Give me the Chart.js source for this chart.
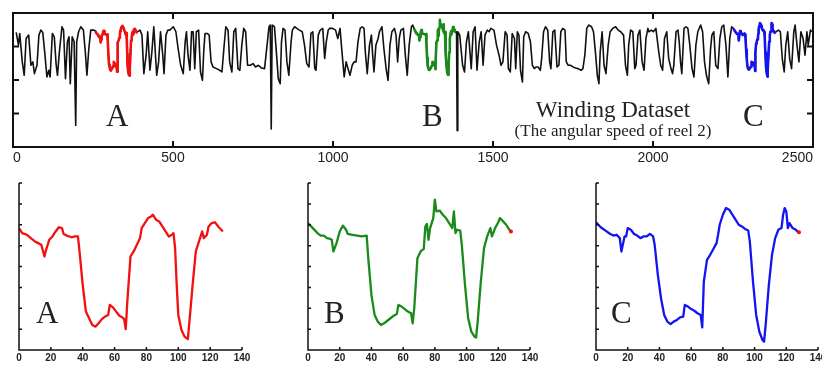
<!DOCTYPE html>
<html>
<head>
<meta charset="utf-8">
<script src="https://cdn.jsdelivr.net/npm/chart.js@4"></script>
<style>
  body { margin: 0; background: #fff; width: 822px; height: 365px; position: relative; overflow: hidden; }
  canvas { position: absolute; }
  .lbl { position: absolute; font-family: "Liberation Serif", "DejaVu Serif", serif; color: #222; line-height: 1; white-space: nowrap; }
</style>
</head>
<body>
<canvas id="top" width="822" height="172" style="left:0;top:0"></canvas>
<canvas id="panelA" width="270" height="190" style="left:0;top:175px"></canvas>
<canvas id="panelB" width="270" height="190" style="left:280px;top:175px"></canvas>
<canvas id="panelC" width="262" height="190" style="left:560px;top:175px"></canvas>

<div class="lbl" style="left:106px;top:100px;font-size:31px">A</div>
<div class="lbl" style="left:422px;top:100px;font-size:31px">B</div>
<div class="lbl" style="left:743px;top:100px;font-size:31px">C</div>
<div class="lbl" style="left:613px;top:98px;font-size:23px;transform:translateX(-50%)">Winding Dataset</div>
<div class="lbl" style="left:613px;top:122px;font-size:17px;transform:translateX(-50%)">(The angular speed of reel 2)</div>
<div class="lbl" style="left:36px;top:297px;font-size:31px">A</div>
<div class="lbl" style="left:324px;top:297px;font-size:31px">B</div>
<div class="lbl" style="left:611px;top:297px;font-size:31px">C</div>

<script>
// full series (angular speed of reel 2), read as [index, value] turning points
const trace1 = [[10,3.42],[17,3.04],[21,3.39],[29,2.54],[35,2.14],[41,3.24],[49,3.34],[56,2.44],[62,2.54],[67,2.19],[75,2.44],[81,3.34],[87,3.49],[93,3.42],[99,2.84],[106,2.09],[112,2.29],[116,2.09],[123,3.39],[129,3.29],[135,2.44],[139,2.14],[145,2.84],[153,3.59],[158,3.49],[164,2.04],[170,3.14],[175,3.29],[179,1.89],[185,3.29],[191,3.14],[196,0.64],[199,3.14],[205,3.44],[212,3.59],[220,3.49],[226,2.84],[231,2.14],[237,2.94],[243,3.49],[251,3.49]];
const trace2 = [[397,3.49],[403,3.34],[409,2.19],[416,2.74],[421,3.44],[428,2.29],[434,2.84],[440,3.59],[449,2.14],[455,2.54],[461,3.44],[468,2.74],[472,2.19],[478,3.34],[484,3.49],
  [490,3.49],[501,3.59],[509,3.44],[516,2.94],[524,2.44],[532,2.19],[538,3.14],[542,3.44],[547,2.74],[553,2.29],[558,3.44],[563,3.44],[568,2.34],[573,3.44],[580,3.49],[586,2.24],[592,1.99],[596,2.84],[600,3.39],[607,3.39],[613,3.34],[619,2.54],[625,2.39],[636,2.34],[646,2.29],[653,2.24],[659,2.94],[665,3.59],[672,3.49],[677,2.54],[684,2.24],[690,3.44],[696,3.54],[703,2.34],[709,2.29],[715,3.04],[721,3.54],[727,3.44],[733,2.44],[742,2.44],[750,2.49],[758,2.39],[767,2.44],[776,2.36],[786,2.34],[794,3.04],[800,3.59],[804,3.64],[807,0.54],[810,3.64],[817,3.59],[823,2.84],[829,2.04],[835,1.89],[839,3.14],[844,3.54],[850,3.49],[856,2.54],[862,2.14],[869,3.14],[873,3.49],[880,3.59],[887,3.54],[895,3.49],[904,3.44],[911,3.04],[918,2.49],[925,2.39],[931,3.39],[937,3.44],[943,2.34],[947,2.29],[954,3.34],[960,3.49],[968,3.54],[974,2.64],[979,3.14],[985,3.49],
  [989,3.54],[999,3.54],[1008,3.49],[1015,3.24],[1022,3.54],[1028,2.84],[1035,2.09],[1041,2.54],[1047,2.34],[1053,2.14],[1060,2.44],[1066,2.54],[1072,2.54],[1078,3.14],[1085,3.54],[1091,3.59],[1097,3.54],[1101,2.84],[1107,2.19],[1114,3.04],[1120,3.34],[1124,2.74],[1128,2.24],[1134,3.04],[1141,3.24],[1145,3.44],[1153,3.59],[1159,2.94],[1166,2.34],[1172,1.99],[1178,3.04],[1184,3.44],[1192,3.54],[1197,3.34],[1202,2.54],[1207,3.24],[1212,3.49],[1220,3.54],[1226,2.74],[1232,2.14],[1238,3.04],[1245,3.59],[1249,3.64]];
const trace3 = [[1386,3.44],[1388,0.49],[1390,3.44],[1396,3.34],[1405,2.44],[1411,2.24],[1417,3.14],[1423,3.44],[1432,2.34],[1438,3.44],[1444,3.59],[1450,2.29],[1457,3.14],[1463,3.44],[1469,2.44],[1475,3.34],[1482,3.49],
  [1488,3.44],[1493,3.54],[1503,3.49],[1511,3.04],[1519,2.74],[1525,2.44],[1531,2.54],[1538,3.44],[1544,3.34],[1548,2.34],[1554,2.24],[1560,3.39],[1567,3.24],[1571,2.34],[1576,3.44],[1581,3.34],[1586,2.29],[1592,1.94],[1596,3.29],[1602,3.44],[1610,3.39],[1617,3.14],[1623,2.44],[1629,2.34],[1635,2.39],[1641,2.39],[1648,2.29],[1652,2.64],[1658,3.44],[1664,3.59],[1671,3.49],[1677,2.54],[1681,2.34],[1687,3.44],[1693,3.49],[1700,2.39],[1706,2.44],[1712,3.44],[1718,3.54],[1725,3.49],[1729,2.54],[1735,2.44],[1742,2.44],[1750,2.39],[1758,2.36],[1766,2.34],[1775,2.29],[1781,2.34],[1787,2.74],[1793,3.54],[1799,3.64],[1808,3.59],[1814,3.44],[1820,2.84],[1826,2.14],[1831,1.89],[1835,2.84],[1841,3.44],[1847,2.44],[1853,2.19],[1860,3.04],[1866,3.44],[1874,3.54],[1883,3.59],[1891,3.49],[1899,3.44],[1908,3.34],[1914,2.44],[1920,2.14],[1924,3.04],[1930,3.49],[1937,3.44],[1943,2.34],[1947,2.44],[1953,3.34],[1959,3.49],[1966,2.54],[1972,2.29],[1978,3.24],[1984,3.54],
  [1987,3.44],[1995,3.49],[2001,3.44],[2009,3.54],[2018,2.84],[2024,2.44],[2030,2.29],[2036,3.24],[2043,3.44],[2049,2.64],[2055,2.39],[2061,2.19],[2065,2.44],[2072,3.44],[2078,3.49],[2082,3.14],[2086,2.54],[2090,2.19],[2097,3.54],[2103,3.59],[2109,3.54],[2115,3.04],[2122,2.34],[2128,2.09],[2134,3.04],[2140,3.44],[2149,3.64],[2155,3.44],[2161,2.54],[2167,2.14],[2174,1.89],[2180,2.94],[2184,3.34],[2190,3.44],[2196,2.44],[2203,2.34],[2209,3.24],[2215,3.59],[2221,3.64],[2228,3.04],[2234,2.09],[2240,3.24],[2246,3.59]];
const trace4 = [[2392,3.49],[2398,3.44],[2404,2.64],[2410,2.24],[2415,3.04],[2421,3.44],[2427,2.64],[2433,2.34],[2440,3.44],[2444,3.64],[2450,3.04],[2456,2.54],[2462,3.44],[2469,3.24],[2475,2.74],[2481,3.44],[2485,3.04],[2492,3.49],[2496,3.44]];

// the three highlighted subsequences, [offset inside segment, value]
const segA = [[0,3.46],[2,3.40],[5,3.38],[8,3.33],[10,3.30],[12,3.28],[14,3.26],[16,3.12],[17,3.20],[19,3.32],[21,3.36],[23,3.42],[25,3.47],[27,3.46],[28,3.39],[30,3.37],[33,3.35],[35,3.36],[37,3.36],[38,3.18],[40,2.78],[42,2.46],[44,2.38],[46,2.30],[48,2.28],[50,2.32],[52,2.37],[54,2.40],[56,2.42],[57,2.54],[59,2.51],[61,2.46],[63,2.41],[65,2.39],[66,2.37],[67,2.25],[68,2.58],[70,3.12],[72,3.18],[74,3.26],[76,3.34],[77,3.46],[79,3.52],[81,3.58],[83,3.60],[84,3.62],[86,3.56],[88,3.54],[90,3.48],[92,3.42],[94,3.36],[96,3.38],[97,3.40],[98,3.22],[99,2.78],[100,2.42],[102,2.24],[104,2.16],[106,2.13],[107,2.34],[109,2.78],[111,3.18],[113,3.30],[115,3.42],[116,3.34],[118,3.38],[119,3.48],[121,3.52],[123,3.53],[125,3.48],[127,3.44],[128,3.42]];
const segB = [[0,3.52],[3,3.46],[6,3.40],[8,3.37],[10,3.37],[12,3.34],[14,3.33],[15,3.32],[16,3.18],[18,3.28],[20,3.42],[22,3.49],[24,3.44],[25,3.39],[28,3.38],[31,3.37],[34,3.36],[37,3.37],[38,3.10],[40,2.66],[42,2.42],[44,2.34],[46,2.30],[48,2.32],[50,2.35],[52,2.38],[54,2.41],[56,2.43],[57,2.54],[59,2.52],[61,2.49],[63,2.46],[65,2.44],[66,2.32],[67,2.50],[69,3.10],[71,3.18],[73,3.21],[74,3.48],[75,3.51],[76,3.32],[77,3.46],[79,3.58],[80,3.80],[81,3.66],[83,3.67],[85,3.62],[87,3.58],[89,3.52],[91,3.46],[92,3.66],[93,3.40],[94,3.44],[96,3.43],[97,3.26],[99,2.78],[101,2.38],[103,2.22],[105,2.16],[106,2.15],[107,2.34],[109,2.82],[111,3.22],[113,3.36],[115,3.46],[116,3.36],[118,3.46],[120,3.53],[121,3.58],[123,3.54],[125,3.50],[127,3.44],[128,3.42]];
const segC = [[0,3.53],[3,3.47],[6,3.43],[9,3.39],[11,3.37],[13,3.38],[15,3.34],[16,3.18],[18,3.36],[19,3.36],[20,3.46],[22,3.44],[24,3.39],[26,3.37],[28,3.34],[30,3.36],[32,3.36],[34,3.39],[36,3.36],[37,3.26],[39,2.90],[41,2.62],[43,2.42],[45,2.34],[47,2.31],[49,2.34],[51,2.36],[53,2.39],[55,2.40],[56,2.54],[58,2.52],[60,2.49],[62,2.47],[64,2.44],[66,2.42],[67,2.27],[68,2.82],[70,3.08],[72,3.14],[74,3.21],[76,3.28],[77,3.38],[78,3.50],[80,3.62],[82,3.70],[84,3.68],[86,3.62],[88,3.56],[90,3.50],[92,3.48],[94,3.45],[96,3.43],[97,3.30],[99,2.82],[101,2.42],[103,2.22],[105,2.12],[106,2.10],[107,2.30],[109,2.78],[111,3.14],[113,3.34],[115,3.44],[117,3.46],[118,3.62],[119,3.70],[120,3.66],[121,3.46],[122,3.52],[124,3.46],[126,3.44],[127,3.42],[128,3.41]];

// where each subsequence starts in the full series
const startA = 258;
const startB = 1254;
const startC = 2252;

const topTicks = [0, 500, 1000, 1500, 2000, 2500];
const panelTicks = [0, 20, 40, 60, 80, 100, 120, 140];

const RED = '#f21010';
const GREEN = '#1a8a1a';
const BLUE = '#1414f0';

const toXY = (pts, off = 0) => pts.map(p => ({ x: p[0] + off, y: p[1] }));

const fullSeries = [
  ...toXY(trace1), ...toXY(segA, startA),
  ...toXY(trace2), ...toXY(segB, startB),
  ...toXY(trace3), ...toXY(segC, startC),
  ...toXY(trace4)
];

// frame + inward tick marks
const axesStyle = {
  id: 'axesStyle',
  afterDraw(chart, args, opts) {
    const { ctx, chartArea: a, scales: { x, y } } = chart;
    const t = opts.tick;
    ctx.save();
    ctx.strokeStyle = '#111';
    ctx.lineWidth = opts.lineWidth;
    ctx.beginPath();
    if (opts.box) {
      ctx.rect(a.left, a.top, a.right - a.left, a.bottom - a.top);
    } else {
      ctx.moveTo(a.left, a.top);
      ctx.lineTo(a.left, a.bottom);
      ctx.lineTo(a.right, a.bottom);
    }
    x.ticks.forEach(tk => {
      const px = x.getPixelForValue(tk.value);
      ctx.moveTo(px, a.bottom); ctx.lineTo(px, a.bottom - t);
      if (opts.box) { ctx.moveTo(px, a.top); ctx.lineTo(px, a.top + t); }
    });
    y.ticks.forEach(tk => {
      const py = y.getPixelForValue(tk.value);
      ctx.moveTo(a.left, py); ctx.lineTo(a.left + t, py);
      if (opts.box) { ctx.moveTo(a.right, py); ctx.lineTo(a.right - t, py); }
    });
    ctx.stroke();
    ctx.restore();
  }
};

function lineSet(data, color, width, order, endDot) {
  return {
    data: data,
    borderColor: color,
    borderWidth: width,
    pointRadius: c => (endDot && c.dataIndex === data.length - 1) ? 2 : 0,
    pointBackgroundColor: RED,
    pointBorderWidth: 0,
    tension: 0,
    borderJoinStyle: 'round',
    order: order
  };
}

Chart.defaults.font.family = '"Liberation Sans", Arial, sans-serif';
Chart.defaults.color = '#222';

new Chart(document.getElementById('top'), {
  type: 'line',
  data: {
    datasets: [
      lineSet(fullSeries, '#111', 1.6, 2),
      lineSet(toXY(segA, startA), RED, 2.6, 1),
      lineSet(toXY(segB, startB), GREEN, 2.6, 1),
      lineSet(toXY(segC, startC), BLUE, 2.6, 1)
    ]
  },
  options: {
    responsive: false,
    animation: false,
    devicePixelRatio: 1,
    layout: { padding: { left: 13, right: 9, top: 13, bottom: 5 } },
    plugins: { legend: { display: false }, tooltip: { enabled: false }, axesStyle: { box: true, tick: 6, lineWidth: 2 } },
    scales: {
      x: {
        type: 'linear', min: 0, max: 2500,
        afterBuildTicks: s => { s.ticks = topTicks.map(v => ({ value: v })); },
        afterFit: s => { s.height = 20; s.paddingLeft = 0; s.paddingRight = 0; },
        grid: { display: false, drawTicks: false },
        border: { display: false },
        ticks: { align: 'inner', padding: 3, maxRotation: 0, font: { size: 14 }, callback: v => String(v) }
      },
      y: { display: false, min: 0, max: 4, ticks: { stepSize: 1 } }
    }
  },
  plugins: [axesStyle]
});

function panel(id, seg, color, padL, padR, endDot) {
  new Chart(document.getElementById(id), {
    type: 'line',
    data: { datasets: [lineSet(toXY(seg), color, 2.3, 1, endDot)] },
    options: {
      responsive: false,
      animation: false,
      devicePixelRatio: 1,
      layout: { padding: { left: padL, right: padR, top: 8, bottom: 3 } },
      plugins: { legend: { display: false }, tooltip: { enabled: false }, axesStyle: { box: false, tick: 3, lineWidth: 1.5 } },
      scales: {
        x: {
          type: 'linear', min: 0, max: 140,
          afterBuildTicks: s => { s.ticks = panelTicks.map(v => ({ value: v })); },
          afterFit: s => { s.height = 12; s.paddingLeft = 0; s.paddingRight = 0; },
          grid: { display: false, drawTicks: false },
          border: { display: false },
          ticks: { padding: 2, maxRotation: 0, font: { size: 10, weight: 'bold' }, callback: v => String(v) }
        },
        y: { display: false, min: 2, max: 4, ticks: { stepSize: 0.25 } }
      }
    },
    plugins: [axesStyle]
  });
}

panel('panelA', segA, RED, 19, 28, false);
panel('panelB', segB, GREEN, 28, 20, true);
panel('panelC', segC, BLUE, 36, 4, true);
</script>
</body>
</html>
